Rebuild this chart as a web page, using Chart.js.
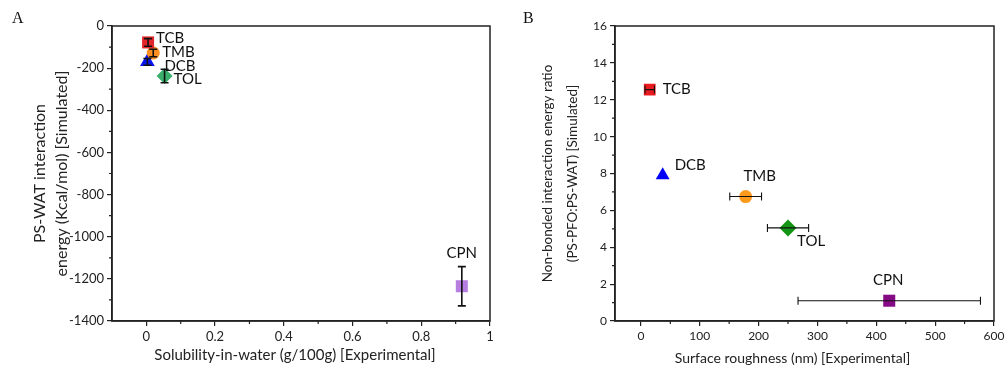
<!DOCTYPE html>
<html>
<head>
<meta charset="utf-8">
<script src="https://cdn.jsdelivr.net/npm/chart.js@4.4.1/dist/chart.umd.min.js"></script>
<style>
    html, body { margin: 0; padding: 0; background: #fff; }
    #wrap { position: relative; width: 1008px; height: 373px; overflow: hidden; }
    canvas { position: absolute; top: 0; }
    #chartA { left: 0; }
    #chartB { left: 505px; }
    .panel { position: absolute; top: 9px; font-family: "Liberation Serif", serif; font-size: 16px; color: #111; }
</style>
</head>
<body>
<div id="wrap">
    <canvas id="chartA" width="500" height="373"></canvas>
    <canvas id="chartB" width="503" height="373"></canvas>
    <div class="panel" style="left:12px">A</div>
    <div class="panel" style="left:523px">B</div>
</div>
<script>
// --- Data ---
const solvents = ['TCB', 'TMB', 'DCB', 'TOL', 'CPN'];

// Panel A: solubility vs PS-WAT interaction energy
const solubility = [0.005, 0.02, 0.003, 0.053, 0.918];
const psWatEnergy = [-78, -128, -170, -237, -1235];
const psWatEnergyErr = [18, 18, 16, 32, 93];

// Panel B: surface roughness vs energy ratio
const roughness = [15, 178, 37, 250, 422];
const roughnessErr = [8, 27, 0, 35, 155];
const energyRatio = [12.55, 6.75, 7.9, 5.05, 1.1];

// tick labels
const xTicksA = [0, 0.2, 0.4, 0.6, 0.8, 1];
const yTicksA = [0, -200, -400, -600, -800, -1000, -1200, -1400];
const xTicksB = [0, 100, 200, 300, 400, 500, 600];
const yTicksB = [0, 2, 4, 6, 8, 10, 12, 14, 16];

// --- Styling ---
const shapes = ['rect', 'circle', 'triangle', 'rectRot', 'rect'];
const colorsA = ['#e3262b', '#ff8f1f', '#0a14f0', '#3aae6b', '#b57ee0'];
const colorsB = ['#e8191f', '#ff9a1c', '#0000f5', '#149414', '#850a85'];
const radiiA = [8.5, 6.5, 8.5, 8, 8.5];
const radiiB = [8.3, 6.5, 8, 8.5, 8.5];
// label offset from marker centre: [dx, dy, align]
const labelPosA = [[8, -4, 'left'], [9, -1, 'left'], [17, 4, 'left'], [9, 3, 'left'], [0, -33, 'center']];
const labelPosB = [[13, 0, 'left'], [14, -20, 'center'], [12, -10, 'left'], [9, 13, 'left'], [-1, -21, 'center']];

const FONT = 'Lato';
const AXIS = '#222';

// frame, minor ticks and x-axis title
const framePlugin = {
    id: 'frame',
    afterDraw(chart, args, opts) {
        const { ctx, chartArea: a, scales } = chart;
        ctx.save();
        ctx.strokeStyle = AXIS;
        ctx.lineWidth = 1.5;
        ctx.strokeRect(a.left, a.top, a.right - a.left, a.bottom - a.top);
        ctx.lineWidth = 1.2;
        const mid = ticks => ticks.slice(1).map((v, i) => (v + ticks[i]) / 2);
        ctx.beginPath();
        mid(opts.xTicks).forEach(v => {
            const px = scales.x.getPixelForValue(v);
            ctx.moveTo(px, a.bottom); ctx.lineTo(px, a.bottom + 3);
        });
        mid(opts.yTicks).forEach(v => {
            const py = scales.y.getPixelForValue(v);
            ctx.moveTo(a.left, py); ctx.lineTo(a.left - 3, py);
        });
        ctx.stroke();

        ctx.font = opts.titleSize + 'px ' + FONT;
        ctx.fillStyle = '#222';
        ctx.textAlign = 'center';
        ctx.textBaseline = 'middle';
        ctx.fillText(opts.title, (a.left + a.right) / 2 + opts.titleDx, opts.titleY);
        ctx.restore();
    }
};

// error bars (vertical or horizontal)
const errPlugin = {
    id: 'errBars',
    afterDatasetsDraw(chart, args, opts) {
        const { ctx, scales } = chart;
        ctx.save();
        ctx.strokeStyle = opts.color;
        ctx.lineWidth = opts.width;
        opts.err.forEach((e, i) => {
            if (!e) return;
            const x = opts.xs[i], y = opts.ys[i];
            ctx.beginPath();
            if (opts.dir === 'y') {
                const px = scales.x.getPixelForValue(x);
                const y1 = scales.y.getPixelForValue(y - e), y2 = scales.y.getPixelForValue(y + e);
                ctx.moveTo(px, y1); ctx.lineTo(px, y2);
                ctx.moveTo(px - opts.cap, y1); ctx.lineTo(px + opts.cap, y1);
                ctx.moveTo(px - opts.cap, y2); ctx.lineTo(px + opts.cap, y2);
            } else {
                const py = scales.y.getPixelForValue(y);
                const x1 = scales.x.getPixelForValue(x - e), x2 = scales.x.getPixelForValue(x + e);
                ctx.moveTo(x1, py); ctx.lineTo(x2, py);
                ctx.moveTo(x1, py - opts.cap); ctx.lineTo(x1, py + opts.cap);
                ctx.moveTo(x2, py - opts.cap); ctx.lineTo(x2, py + opts.cap);
            }
            ctx.stroke();
        });
        ctx.restore();
    }
};

// point name labels
const labelPlugin = {
    id: 'pointLabels',
    afterDraw(chart, args, opts) {
        const { ctx } = chart;
        ctx.save();
        ctx.font = opts.size + 'px ' + FONT;
        ctx.fillStyle = '#111';
        ctx.textBaseline = 'middle';
        chart.data.datasets.forEach((ds, i) => {
            const pt = chart.getDatasetMeta(i).data[0];
            const [dx, dy, align] = opts.pos[i];
            ctx.textAlign = align;
            ctx.fillText(ds.label, pt.x + dx, pt.y + dy);
        });
        ctx.restore();
    }
};

const makeChart = (id, cfg) => new Chart(document.getElementById(id), {
    type: 'scatter',
    data: {
        datasets: solvents.map((s, i) => ({
            label: s,
            data: [{ x: cfg.xs[i], y: cfg.ys[i] }],
            pointStyle: shapes[i],
            pointRadius: cfg.radii[i],
            backgroundColor: cfg.colors[i],
            borderColor: cfg.colors[i],
            borderWidth: 0
        }))
    },
    options: {
        responsive: false,
        animation: false,
        layout: { padding: { left: 0, top: 26, right: cfg.right, bottom: 0 } },
        plugins: {
            legend: { display: false },
            tooltip: { enabled: false },
            frame: { xTicks: cfg.xTicks, yTicks: cfg.yTicks, title: cfg.xTitle, titleSize: cfg.xTitleSize, titleDx: cfg.xTitleDx, titleY: cfg.xTitleY },
            errBars: { xs: cfg.xs, ys: cfg.ys, err: cfg.err, dir: cfg.errDir, color: '#111', width: cfg.errWidth, cap: cfg.cap },
            pointLabels: { pos: cfg.labelPos, size: 15 }
        },
        scales: {
            x: {
                type: 'linear',
                min: cfg.xMin, max: cfg.xMax,
                afterBuildTicks: s => { s.ticks = cfg.xTicks.map(v => ({ value: v })); },
                afterFit: s => { s.height = 52; },
                grid: { drawOnChartArea: false, tickLength: 5, color: AXIS, lineWidth: 1.2 },
                border: { color: AXIS, width: 1.5 },
                ticks: { font: { family: FONT, size: cfg.tickSize }, color: '#222', padding: 3, maxRotation: 0, callback: v => String(v) }
            },
            y: {
                type: 'linear',
                min: cfg.yMin, max: cfg.yMax,
                afterBuildTicks: s => { s.ticks = cfg.yTicks.map(v => ({ value: v })); },
                afterFit: s => { s.width = cfg.yWidth; },
                grid: { drawOnChartArea: false, tickLength: 5, color: AXIS, lineWidth: 1.2 },
                border: { color: AXIS, width: 1.5 },
                ticks: { font: { family: FONT, size: cfg.tickSize }, color: '#222', padding: 3, callback: v => String(v) },
                title: {
                    display: true, text: cfg.yTitle, color: '#222',
                    font: { family: FONT, size: cfg.yTitleSize, lineHeight: cfg.yTitleLH },
                    padding: { top: cfg.yTitlePad, bottom: 0 }
                }
            }
        }
    },
    plugins: [framePlugin, errPlugin, labelPlugin]
});

makeChart('chartA', {
    xs: solubility, ys: psWatEnergy, err: psWatEnergyErr, errDir: 'y', errWidth: 1.6, cap: 4,
    colors: colorsA, radii: radiiA, labelPos: labelPosA,
    xMin: -0.1, xMax: 1, yMin: -1400, yMax: 0,
    xTicks: xTicksA, yTicks: yTicksA, tickSize: 13,
    right: 10, yWidth: 112,
    xTitle: 'Solubility-in-water (g/100g) [Experimental]', xTitleSize: 15, xTitleDx: -6, xTitleY: 355,
    yTitle: ['PS-WAT interaction', 'energy (Kcal/mol) [Simulated]'], yTitleSize: 16, yTitleLH: 22 / 16, yTitlePad: 29
});

makeChart('chartB', {
    xs: roughness, ys: energyRatio, err: roughnessErr, errDir: 'x', errWidth: 1.1, cap: 4,
    colors: colorsB, radii: radiiB, labelPos: labelPosB,
    xMin: -44, xMax: 600, yMin: 0, yMax: 16,
    xTicks: xTicksB, yTicks: yTicksB, tickSize: 12,
    right: 14, yWidth: 110,
    xTitle: 'Surface roughness (nm) [Experimental]', xTitleSize: 14, xTitleDx: -12, xTitleY: 358,
    yTitle: ['Non-bonded interaction energy ratio', '(PS-PFO:PS-WAT) [Simulated]'], yTitleSize: 13.5, yTitleLH: 25 / 13.5, yTitlePad: 30.5
});
</script>
</body>
</html>
